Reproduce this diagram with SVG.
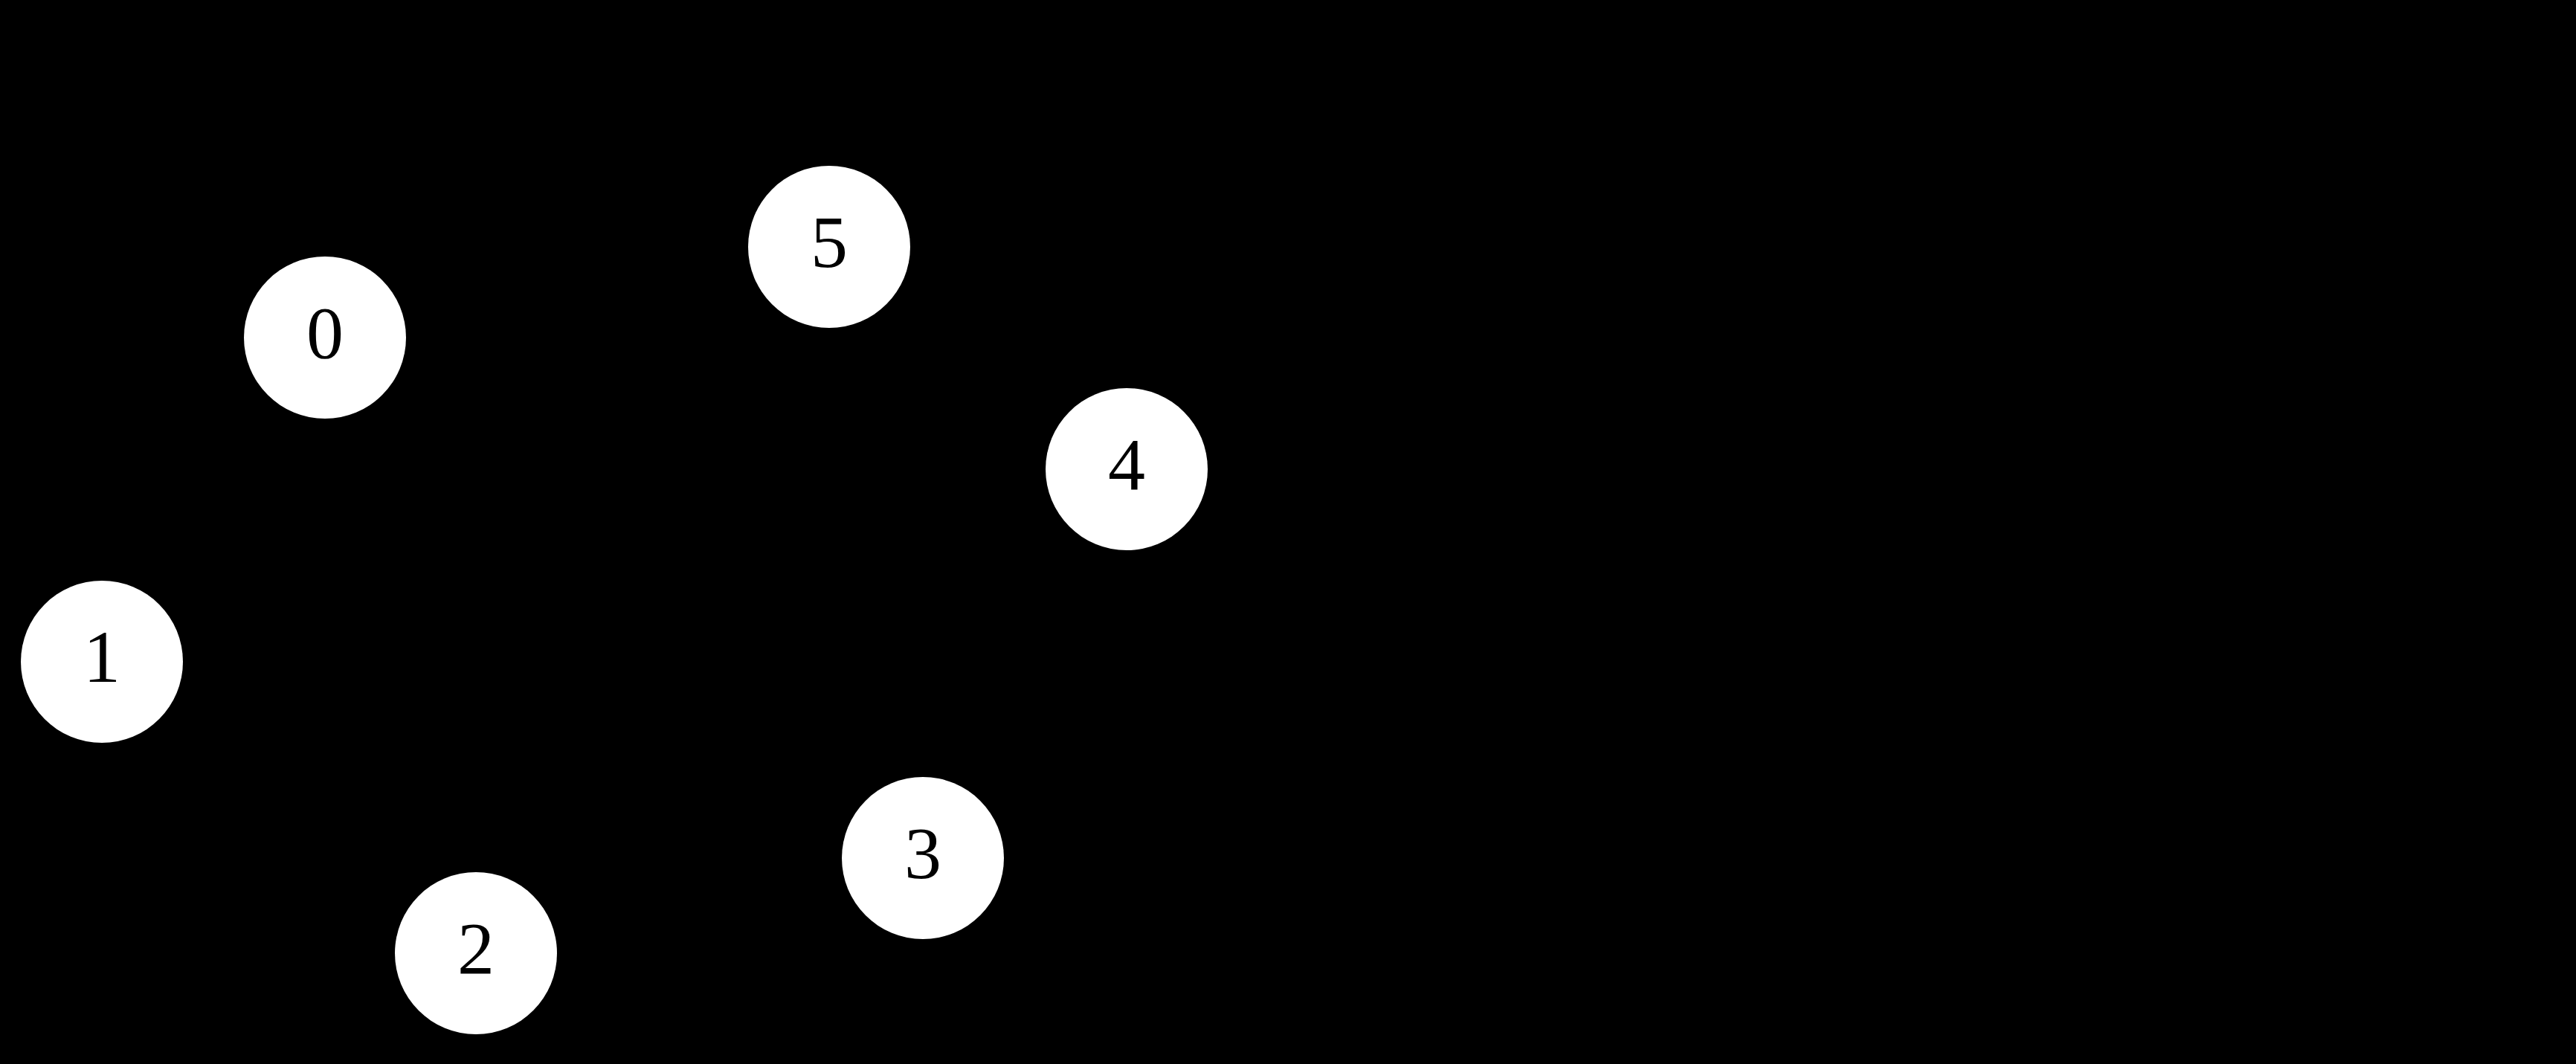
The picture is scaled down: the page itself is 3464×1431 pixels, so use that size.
<svg xmlns="http://www.w3.org/2000/svg" width="3464" height="1431" viewBox="0 0 3464 1431">
<style>
.node circle{fill:#ffffff;stroke:none}
.node text{font-family:"Liberation Serif","DejaVu Serif",serif;font-size:100px;fill:#000000;text-anchor:middle}
</style>
<rect x="0" y="0" width="3464" height="1431" fill="#000000"/>
<g id="connectors"></g>
<g id="node0" class="node"><circle cx="437" cy="454" r="109"/><text x="437" y="481">0</text></g>
<g id="node1" class="node"><circle cx="137" cy="890" r="109"/><text x="137" y="917">1</text></g>
<g id="node2" class="node"><circle cx="640" cy="1282" r="109"/><text x="640" y="1309">2</text></g>
<g id="node3" class="node"><circle cx="1241" cy="1154" r="109"/><text x="1241" y="1181">3</text></g>
<g id="node4" class="node"><circle cx="1515" cy="631" r="109"/><text x="1515" y="658">4</text></g>
<g id="node5" class="node"><circle cx="1115" cy="332" r="109"/><text x="1115" y="359">5</text></g>
</svg>
